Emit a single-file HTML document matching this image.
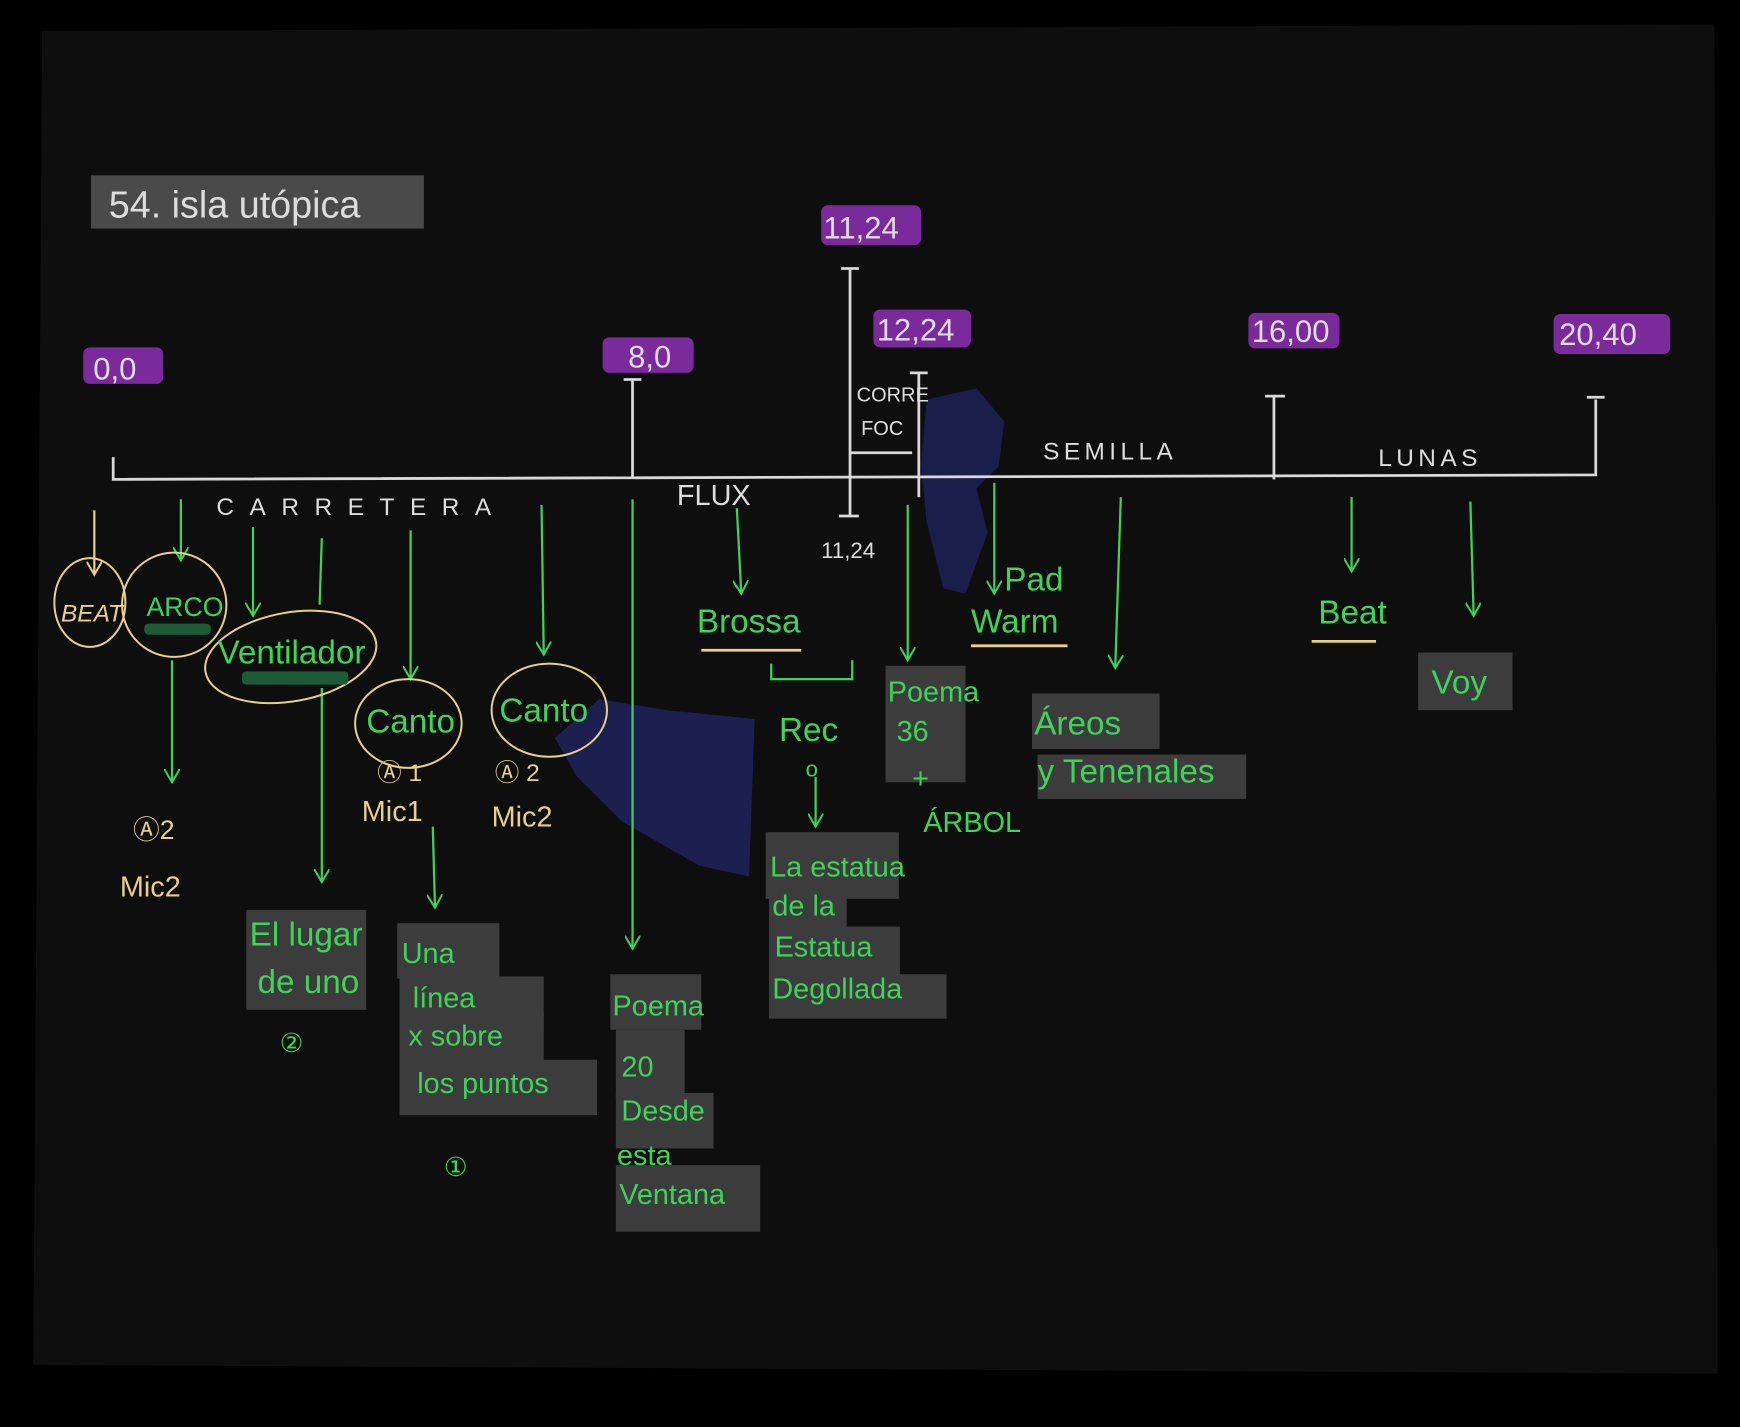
<!DOCTYPE html>
<html><head><meta charset="utf-8"><style>
html,body{margin:0;padding:0;background:#000;width:1740px;height:1427px;overflow:hidden}
svg{display:block}
text{font-family:"Liberation Sans",sans-serif}
.w{fill:#ddd}
.g{fill:#3fd35a}
.y{fill:#e8cf8a}
</style></head><body>
<svg width="1740" height="1427" viewBox="0 0 1568 1286" preserveAspectRatio="none" xmlns="http://www.w3.org/2000/svg">
<defs>
<marker id="ga" markerWidth="14" markerHeight="14" refX="12" refY="7" orient="auto" markerUnits="userSpaceOnUse"><path d="M0,0 L12,7 L0,14" fill="none" stroke="#3fd35a" stroke-width="1.8"/></marker>
<marker id="ya" markerWidth="14" markerHeight="14" refX="12" refY="7" orient="auto" markerUnits="userSpaceOnUse"><path d="M0,0 L12,7 L0,14" fill="none" stroke="#e8cf8a" stroke-width="1.8"/></marker>
</defs>
<rect x="0" y="0" width="1568" height="1286" fill="#000"/>
<path d="M38,28 L1545,22 L1548,1238 L30,1230 Z" fill="#0e0e0e"/>
<rect x="82" y="158" width="300" height="48" fill="#4a4a4a"/>
<text x="98" y="196" font-size="34" class="w">54. isla utópica</text>
<g fill="#7a2a9a">
<rect x="75" y="313" width="72" height="33" rx="6"/>
<rect x="543" y="304" width="82" height="32" rx="6"/>
<rect x="740" y="185" width="90" height="36" rx="6"/>
<rect x="787" y="279" width="88" height="34" rx="6"/>
<rect x="1125" y="282" width="82" height="32" rx="6"/>
<rect x="1400" y="283" width="105" height="36" rx="6"/>
</g>
<g font-size="28" class="w">
<text x="84" y="342">0,0</text>
<text x="566" y="331">8,0</text>
<text x="742" y="215">11,24</text>
<text x="790" y="307">12,24</text>
<text x="1128" y="308">16,00</text>
<text x="1405" y="311">20,40</text>
</g>
<g fill="#3c3c3c">
<rect x="222" y="820" width="108" height="90"/>
<rect x="358" y="832" width="92" height="50"/>
<rect x="360" y="880" width="130" height="50"/>
<rect x="360" y="912" width="130" height="44"/>
<rect x="360" y="955" width="178" height="50"/>
<rect x="550" y="878" width="82" height="50"/>
<rect x="555" y="928" width="62" height="62"/>
<rect x="555" y="985" width="88" height="50"/>
<rect x="555" y="1050" width="130" height="60"/>
<rect x="690" y="750" width="120" height="60"/>
<rect x="693" y="800" width="70" height="40"/>
<rect x="693" y="835" width="118" height="45"/>
<rect x="693" y="878" width="160" height="40"/>
<rect x="798" y="600" width="72" height="105"/>
<rect x="930" y="625" width="115" height="50"/>
<rect x="935" y="680" width="188" height="40"/>
<rect x="1278" y="588" width="85" height="52"/>
</g>
<path d="M835,360 L880,350 L905,380 L900,420 L880,440 L890,480 L870,535 L850,530 L835,470 L830,420 Z" fill="#1a1e4a"/>
<path d="M500,665 L540,630 L600,640 L680,648 L675,790 L630,780 L560,740 L520,700 Z" fill="#1c2050"/>
<g stroke="#d8d8d8" stroke-width="2.5" fill="none">
<path d="M102,412 L102,432 L1438,428 L1438,360"/>
<path d="M570,342 L570,430 M562,342 L578,342"/>
<path d="M766,242 L766,465 M758,242 L774,242 M756,465 L774,465"/>
<path d="M828,336 L828,448 M820,336 L836,336"/>
<path d="M766,408 L822,408"/>
<path d="M1148,357 L1148,432 M1140,357 L1158,357"/>
<path d="M1430,358 L1446,358"/>
</g>
<g class="w" font-size="22">
<text x="195" y="464" letter-spacing="14">CARRETERA</text>
<text x="610" y="455" font-size="26">FLUX</text>
<text x="940" y="414" letter-spacing="4">SEMILLA</text>
<text x="1242" y="420" letter-spacing="4">LUNAS</text>
<text x="772" y="362" font-size="18">CORRE</text>
<text x="776" y="392" font-size="18">FOC</text>
<text x="740" y="503" font-size="20">11,24</text>
</g>
<g stroke="#3fd35a" stroke-width="2" fill="none" marker-end="url(#ga)">
<path d="M163,450 L163,505"/>
<path d="M228,475 L228,555"/>
<path d="M155,595 L155,705"/>
<path d="M290,620 L290,795"/>
<path d="M370,478 L370,612"/>
<path d="M390,745 L392,818"/>
<path d="M488,455 L490,590"/>
<path d="M570,450 L570,855"/>
<path d="M664,458 L668,535"/>
<path d="M735,700 L735,745"/>
<path d="M818,455 L818,595"/>
<path d="M896,435 L896,535"/>
<path d="M1010,448 L1005,602"/>
<path d="M1218,448 L1218,515"/>
<path d="M1325,452 L1328,555"/>
</g>
<path d="M290,485 L288,545" stroke="#3fd35a" stroke-width="2"/>
<path d="M695,598 L695,612 L768,612 L768,595" stroke="#3fd35a" stroke-width="2" fill="none"/>
<path d="M85,460 L85,518" stroke="#e8cf8a" stroke-width="2" marker-end="url(#ya)"/>
<g stroke="#e8cf8a" stroke-width="1.8" fill="none">
<ellipse cx="81" cy="543" rx="32" ry="40"/>
<ellipse cx="157" cy="545" rx="47" ry="47" transform="rotate(20 157 545)"/>
<ellipse cx="262" cy="592" rx="78" ry="40" transform="rotate(-10 262 592)"/>
<ellipse cx="368" cy="652" rx="48" ry="40"/>
<ellipse cx="495" cy="640" rx="52" ry="42"/>
</g>
<g fill="#1d5a36">
<rect x="130" y="562" width="60" height="10" rx="4"/>
<rect x="218" y="605" width="96" height="12" rx="4"/>
</g>
<g stroke="#e8cf8a" stroke-width="2.5">
<path d="M632,586 L722,586"/><path d="M875,582 L962,582"/><path d="M1182,578 L1240,578"/>
</g>
<g class="y">
<text x="55" y="560" font-size="22" font-style="italic">BEAT</text>
<text x="108" y="808" font-size="26">Mic2</text>
<text x="326" y="740" font-size="26">Mic1</text>
<text x="443" y="745" font-size="26">Mic2</text>
<text x="340" y="704" font-size="22">Ⓐ 1</text>
<text x="446" y="704" font-size="22">Ⓐ 2</text>
<text x="120" y="756" font-size="24">Ⓐ2</text>
</g>
<g class="g" font-size="30">
<text x="132" y="555" font-size="24">ARCO</text>
<text x="196" y="598">Ventilador</text>
<text x="330" y="660">Canto</text>
<text x="450" y="650">Canto</text>
<text x="628" y="570">Brossa</text>
<text x="905" y="532">Pad</text>
<text x="875" y="570">Warm</text>
<text x="1188" y="562">Beat</text>
<text x="1290" y="625">Voy</text>
<text x="225" y="852">El lugar</text>
<text x="232" y="895">de uno</text>
<text x="252" y="948" font-size="24">②</text>
<text x="362" y="868" font-size="26">Una</text>
<text x="372" y="908" font-size="26">línea</text>
<text x="368" y="942" font-size="26">x sobre</text>
<text x="376" y="985" font-size="26">los puntos</text>
<text x="400" y="1060" font-size="24">①</text>
<text x="552" y="915" font-size="26">Poema</text>
<text x="560" y="970" font-size="26">20</text>
<text x="560" y="1010" font-size="26">Desde</text>
<text x="556" y="1050" font-size="26">esta</text>
<text x="558" y="1085" font-size="26">Ventana</text>
<text x="702" y="668">Rec</text>
<text x="726" y="700" font-size="20">o</text>
<text x="694" y="790" font-size="26">La estatua</text>
<text x="696" y="825" font-size="26">de la</text>
<text x="698" y="862" font-size="26">Estatua</text>
<text x="696" y="900" font-size="26">Degollada</text>
<text x="800" y="632" font-size="26">Poema</text>
<text x="808" y="668" font-size="26">36</text>
<text x="822" y="710" font-size="26">+</text>
<text x="832" y="750" font-size="26">ÁRBOL</text>
<text x="932" y="662">Áreos</text>
<text x="935" y="705">y Tenenales</text>
</g>
</svg>
</body></html>
